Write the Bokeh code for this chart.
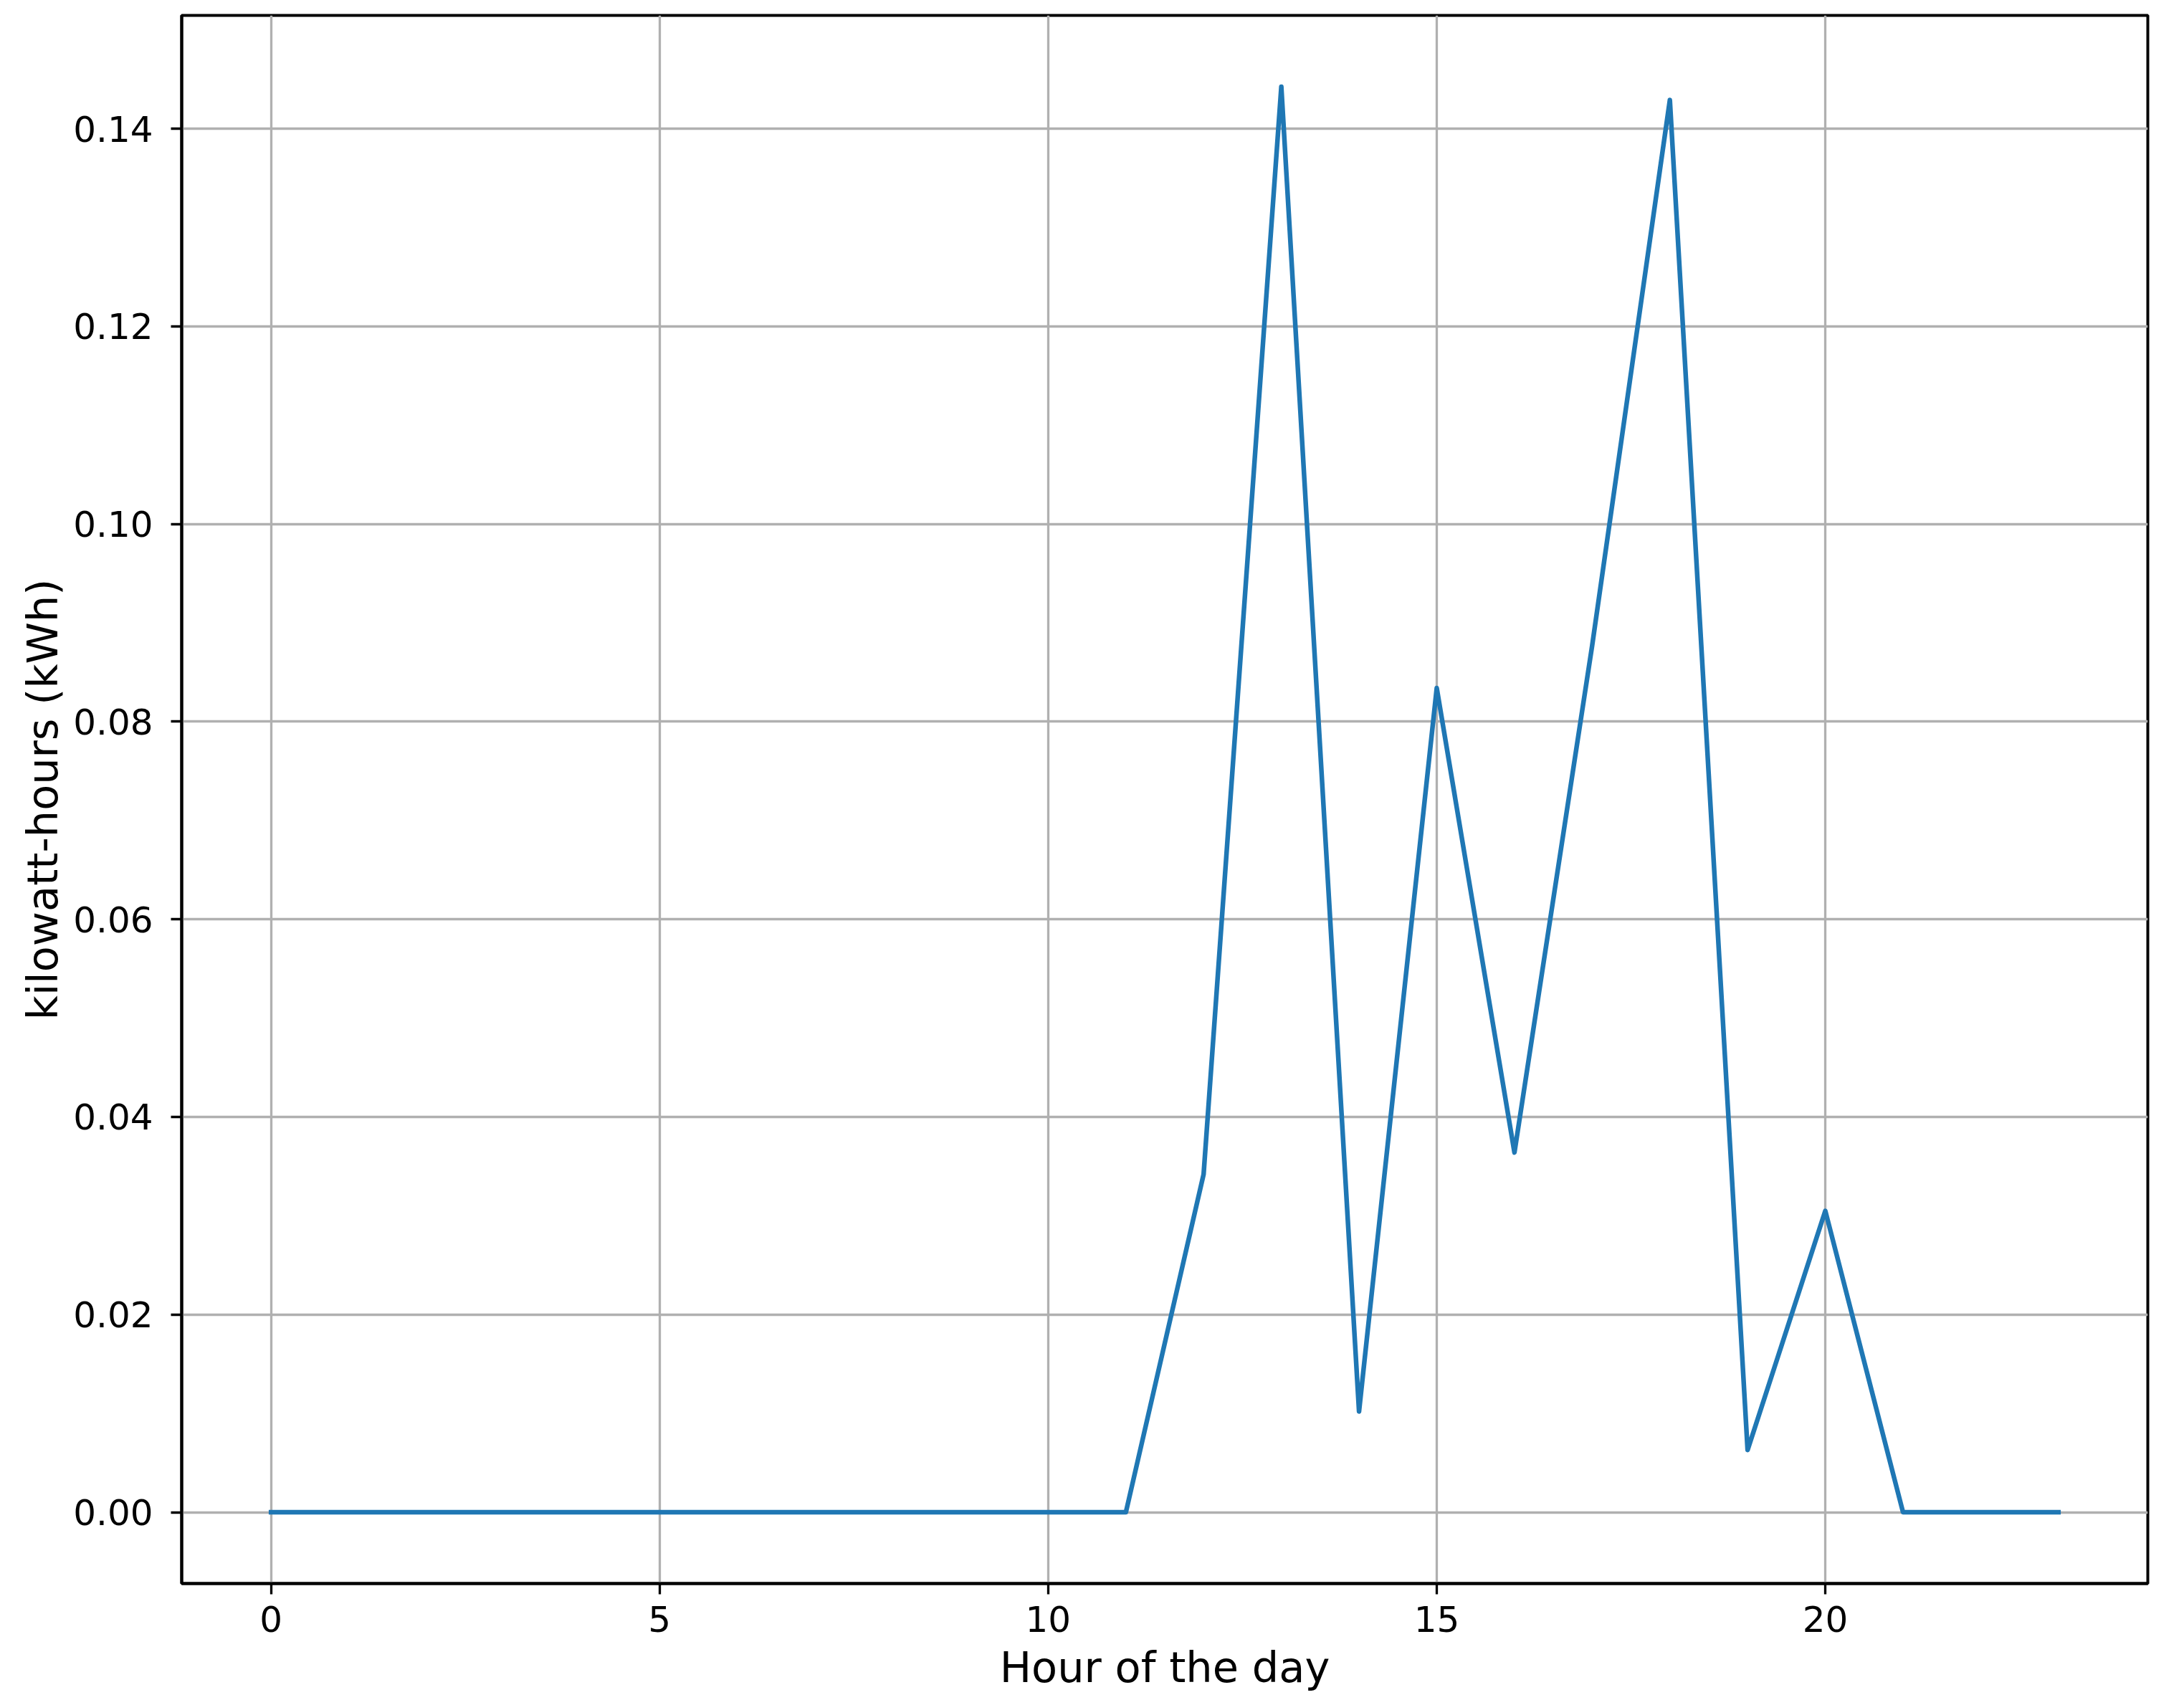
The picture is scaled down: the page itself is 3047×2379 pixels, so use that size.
from bokeh.plotting import figure
from bokeh.models import Range1d, FixedTicker, PrintfTickFormatter
from bokeh.embed import file_html
from bokeh.resources import INLINE

# ---- data ----
hours = list(range(24))
kwh = [0.0, 0.0, 0.0, 0.0, 0.0, 0.0, 0.0, 0.0, 0.0, 0.0, 0.0, 0.0,
       0.0342, 0.14425, 0.0102, 0.0834, 0.0364, 0.0877, 0.1429, 0.0063,
       0.0305, 0.0, 0.0, 0.0]
x_ticks = [0, 5, 10, 15, 20]
y_ticks = [0.0, 0.02, 0.04, 0.06, 0.08, 0.10, 0.12, 0.14]
x_label = "Hour of the day"
y_label = "kilowatt-hours (kWh)"

FONT = "DejaVu Sans"
LINE_COLOR = "#1f77b4"
GRID_COLOR = "#b0b0b0"

# matplotlib-like 5% margins
xmin, xmax = min(hours), max(hours)
ymin, ymax = min(kwh), max(kwh)
xpad = 0.05 * (xmax - xmin)
ypad = 0.05 * (ymax - ymin)

p = figure(
    width=3031, height=2363,
    output_backend="svg", toolbar_location=None,
    x_range=Range1d(xmin - xpad, xmax + xpad),
    y_range=Range1d(ymin - ypad, ymax + ypad),
    min_border_left=253, min_border_right=35,
    min_border_top=21, min_border_bottom=152,
)

p.background_fill_color = "white"
p.border_fill_color = "white"
p.outline_line_color = "black"
p.outline_line_width = 4

p.line(hours, kwh, line_color=LINE_COLOR, line_width=6.5,
       line_join="round", line_cap="square")

for ax in (p.xaxis[0], p.yaxis[0]):
    ax.axis_line_color = "black"
    ax.axis_line_width = 4
    ax.major_tick_line_color = "black"
    ax.major_tick_line_width = 3.3
    ax.major_tick_out = 15
    ax.major_tick_in = 0
    ax.minor_tick_line_color = None
    ax.major_label_text_font = FONT
    ax.major_label_text_font_size = "50px"
    ax.major_label_text_color = "black"
    ax.axis_label_text_font = FONT
    ax.axis_label_text_font_size = "59px"
    ax.axis_label_text_font_style = "normal"
    ax.axis_label_text_color = "black"

p.xaxis.ticker = FixedTicker(ticks=x_ticks)
p.yaxis.ticker = FixedTicker(ticks=y_ticks)
p.yaxis.formatter = PrintfTickFormatter(format="%.2f")
p.xaxis.axis_label = x_label
p.yaxis.axis_label = y_label
p.xaxis.major_label_standoff = 16
p.yaxis.major_label_standoff = 25
p.xaxis.axis_label_standoff = 12
p.yaxis.axis_label_standoff = 5

p.grid.grid_line_color = GRID_COLOR
p.grid.grid_line_width = 3.3

open("out.html", "w").write(file_html(p, INLINE))
